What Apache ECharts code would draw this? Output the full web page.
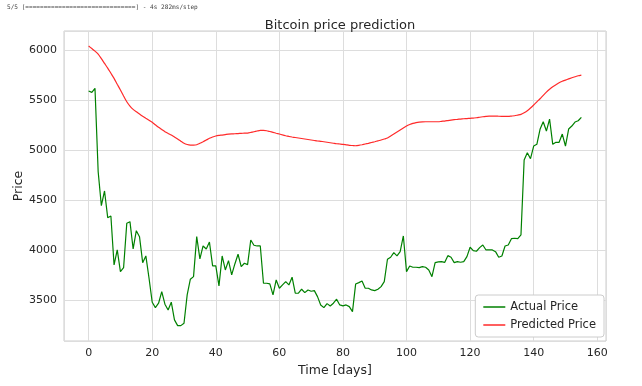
<!DOCTYPE html>
<html>
<head>
<meta charset="utf-8">
<script src="https://cdn.jsdelivr.net/npm/echarts@6/dist/echarts.min.js"></script>
<style>
html,body{margin:0;padding:0;background:#fff;}
#chart{width:642px;height:386px;}
</style>
</head>
<body>
<div id="chart"></div>
<script>
const titleText = "Bitcoin price prediction";
const consoleText = "5/5 [==============================] - 4s 282ms/step";
const xLabel = "Time [days]";
const yLabel = "Price";
const seriesNames = ["Actual Price", "Predicted Price"];

const actualPrice = [
  5590, 5577, 5617, 4783, 4443, 4590, 4323, 4340, 3850, 4000,
  3783, 3823, 4267, 4283, 4010, 4193, 4133, 3873, 3940, 3717,
  3477, 3423, 3467, 3583, 3457, 3400, 3477, 3300, 3243, 3243,
  3267, 3550, 3707, 3733, 4133, 3910, 4040, 4010, 4080, 3840,
  3840, 3640, 3940, 3800, 3893, 3750, 3860, 3957, 3833, 3867,
  3853, 4100, 4047, 4040, 4040, 3667, 3667, 3660, 3550, 3700,
  3617, 3650, 3683, 3650, 3727, 3567, 3567, 3607, 3573, 3600,
  3587, 3593, 3533, 3450, 3423, 3463, 3440, 3467, 3507, 3450,
  3440, 3450, 3433, 3383, 3660, 3673, 3690, 3617, 3617, 3600,
  3593, 3607, 3633, 3683, 3907, 3927, 3973, 3940, 3983, 4140,
  3783, 3840, 3827, 3827, 3823, 3833, 3827, 3800, 3733, 3873,
  3880, 3883, 3875, 3943, 3927, 3873, 3883, 3877, 3883, 3933,
  4027, 3993, 3987, 4023, 4050, 4000, 4000, 4000, 3983, 3927,
  3940, 4040, 4050, 4113, 4117, 4113, 4150, 4900, 4973, 4913,
  5040, 5057, 5207, 5283, 5190, 5310, 5057, 5077, 5077, 5160,
  5040, 5210, 5240, 5280, 5293, 5327
];

const predictedPrice = [
  6040, 6015, 5990, 5960, 5915, 5867, 5820, 5768, 5717, 5658,
  5600, 5540, 5483, 5440, 5407, 5382, 5360, 5338, 5317, 5297,
  5277, 5252, 5227, 5205, 5183, 5166, 5150, 5130, 5110, 5088,
  5067, 5055, 5050, 5050, 5053, 5067, 5083, 5100, 5117, 5130,
  5140, 5146, 5150, 5155, 5160, 5162, 5163, 5165, 5167, 5169,
  5170, 5176, 5183, 5190, 5197, 5197, 5193, 5185, 5177, 5168,
  5160, 5151, 5143, 5136, 5130, 5125, 5120, 5115, 5110, 5105,
  5100, 5095, 5090, 5087, 5083, 5078, 5073, 5068, 5063, 5060,
  5057, 5052, 5047, 5045, 5043, 5047, 5053, 5060, 5067, 5075,
  5083, 5092, 5100, 5110, 5120, 5140, 5160, 5180, 5200, 5220,
  5240, 5255, 5267, 5275, 5280, 5282, 5283, 5283, 5283, 5283,
  5283, 5287, 5290, 5295, 5300, 5304, 5307, 5310, 5313, 5315,
  5317, 5320, 5323, 5328, 5333, 5337, 5340, 5340, 5340, 5338,
  5337, 5337, 5337, 5340, 5343, 5350, 5357, 5373, 5393, 5420,
  5450, 5482, 5513, 5547, 5580, 5608, 5633, 5653, 5673, 5688,
  5700, 5712, 5723, 5733, 5743, 5750
];

const toPairs = arr => arr.map((v, i) => [i, v]);

const FONT = "DejaVu Sans";
const chart = echarts.init(document.getElementById('chart'), null, {renderer: 'canvas'});
chart.setOption({
  animation: false,
  backgroundColor: '#ffffff',
  title: {
    text: titleText,
    left: 335, top: 14, textAlign: 'center',
    textStyle: {fontFamily: FONT, fontSize: 13, fontWeight: 'normal', color: '#262626'}
  },
  graphic: [{
    type: 'text', left: 7, top: 4,
    style: {text: consoleText, font: '6.1px "DejaVu Sans Mono"', fill: '#444'}
  }],
  grid: {
    left: 64, right: 36, top: 31, bottom: 45,
    show: true, borderColor: '#cccccc', borderWidth: 1,
    containLabel: false, outerBoundsMode: 'none'
  },
  legend: {
    orient: 'vertical', right: 38, bottom: 49,
    padding: [6, 8, 6, 8], itemGap: 6,
    itemWidth: 22, itemHeight: 1.5, icon: 'rect',
    borderColor: '#cccccc', borderWidth: 1, borderRadius: 3,
    backgroundColor: '#ffffff',
    textStyle: {fontFamily: FONT, fontSize: 11.5, color: '#262626'},
    data: seriesNames
  },
  xAxis: {
    type: 'value', min: -7.75, max: 162.75, splitNumber: 8,
    name: xLabel, nameLocation: 'middle', nameGap: 22,
    nameTextStyle: {fontFamily: FONT, fontSize: 12.5, color: '#262626'},
    axisLine: {show: false}, axisTick: {show: false},
    axisLabel: {fontFamily: FONT, fontSize: 11, color: '#262626', margin: 7,
      showMinLabel: false, showMaxLabel: false, formatter: v => String(v)},
    splitLine: {show: true, lineStyle: {color: '#dddddd', width: 1}}
  },
  yAxis: {
    type: 'value', min: 3089, max: 6191, splitNumber: 6,
    name: yLabel, nameLocation: 'middle', nameGap: 39, nameMoveOverlap: false,
    nameTextStyle: {fontFamily: FONT, fontSize: 12.5, color: '#262626'},
    axisLine: {show: false}, axisTick: {show: false},
    axisLabel: {fontFamily: FONT, fontSize: 11, color: '#262626', margin: 7,
      showMinLabel: false, showMaxLabel: false, formatter: v => String(v)},
    splitLine: {show: true, lineStyle: {color: '#dddddd', width: 1}}
  },
  series: [
    {
      name: seriesNames[0], type: 'line', data: toPairs(actualPrice),
      showSymbol: false, symbol: 'none',
      lineStyle: {color: '#008000', width: 1.2}, itemStyle: {color: '#008000'}
    },
    {
      name: seriesNames[1], type: 'line', data: toPairs(predictedPrice),
      showSymbol: false, symbol: 'none', smooth: 0.2,
      lineStyle: {color: '#ff2a2a', width: 1.2}, itemStyle: {color: '#ff2a2a'}
    }
  ]
});
</script>
</body>
</html>
